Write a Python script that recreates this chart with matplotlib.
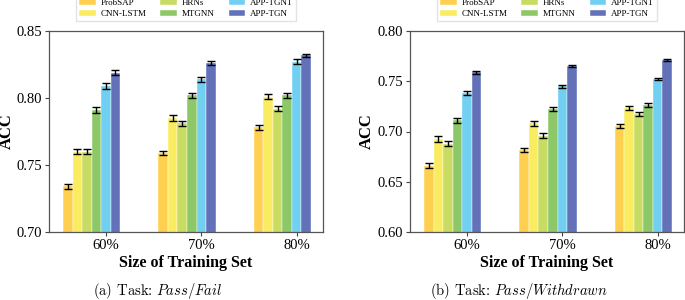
import numpy as np
import matplotlib
matplotlib.use("Agg")
import matplotlib.pyplot as plt

# === Dados ===
grupos = ["60%", "70%", "80%"]
modelos = ["ProbSAP", "CNN-LSTM", "HRNs", "MTGNN", "APP-TGN1", "APP-TGN"]
cores = ["#FFD04F", "#F9EC61", "#C8DB62", "#8DC868", "#71CFF1", "#6271B8"]

# (a) Pass/Fail
acc_a = {
    "ProbSAP":  [0.734, 0.759, 0.778],
    "CNN-LSTM": [0.760, 0.785, 0.801],
    "HRNs":     [0.760, 0.781, 0.792],
    "MTGNN":    [0.791, 0.802, 0.802],
    "APP-TGN1": [0.809, 0.814, 0.827],
    "APP-TGN":  [0.819, 0.826, 0.832],
}
err_a = {
    "ProbSAP":  [0.0020, 0.0018, 0.0018],
    "CNN-LSTM": [0.0020, 0.0025, 0.0020],
    "HRNs":     [0.0018, 0.0020, 0.0018],
    "MTGNN":    [0.0020, 0.0020, 0.0020],
    "APP-TGN1": [0.0022, 0.0020, 0.0018],
    "APP-TGN":  [0.0018, 0.0015, 0.0012],
}

# (b) Pass/Withdrawn
acc_b = {
    "ProbSAP":  [0.666, 0.682, 0.705],
    "CNN-LSTM": [0.693, 0.708, 0.723],
    "HRNs":     [0.688, 0.696, 0.717],
    "MTGNN":    [0.711, 0.722, 0.726],
    "APP-TGN1": [0.738, 0.745, 0.752],
    "APP-TGN":  [0.759, 0.765, 0.771],
}
err_b = {
    "ProbSAP":  [0.0025, 0.0020, 0.0020],
    "CNN-LSTM": [0.0030, 0.0025, 0.0020],
    "HRNs":     [0.0025, 0.0025, 0.0020],
    "MTGNN":    [0.0025, 0.0020, 0.0020],
    "APP-TGN1": [0.0020, 0.0015, 0.0012],
    "APP-TGN":  [0.0015, 0.0012, 0.0010],
}

plt.rcParams['font.family'] = ['Liberation Serif', 'DejaVu Serif']
plt.rcParams['mathtext.fontset'] = 'cm'

fig = plt.figure(figsize=(6.85, 3.0), dpi=100)
W, H = 685, 300
ax_a = fig.add_axes([49 / W, 1 - 232 / H, 274 / W, 201 / H])
ax_b = fig.add_axes([410 / W, 1 - 232 / H, 274 / W, 201 / H])

x = np.arange(len(grupos))
w = 0.1


def desenhar(ax, acc, err, ylim, yticks, ylab_x):
    for i, m in enumerate(modelos):
        ax.bar(x + (i - 2.5) * w, acc[m], w, yerr=err[m], color=cores[i],
               edgecolor='white', linewidth=0.3, label=m, capsize=3,
               error_kw=dict(elinewidth=1.0, capthick=1.0, ecolor='black'))
    ax.set_xlim(-0.447, 2.426)
    ax.set_ylim(*ylim)
    ax.set_yticks(yticks)
    ax.set_yticklabels([f"{v:.2f}" for v in yticks])
    ax.set_xticks(x + 0.15)
    ax.set_xticklabels(grupos)
    ax.tick_params(labelsize=10.5, length=3, width=0.8, color='#444444', pad=2)
    for s in ax.spines.values():
        s.set_color('#555555')
        s.set_linewidth(0.9)
    ax.set_ylabel("ACC", fontsize=12, fontweight='bold')
    ax.yaxis.set_label_coords(ylab_x, 0.5)
    ax.set_xlabel("Size of Training Set", fontsize=11.5, fontweight='bold', labelpad=2)
    ax.legend(ncol=3, loc='lower center', bbox_to_anchor=(0.5, 1.025),
              fontsize=6.5, frameon=True, fancybox=False, edgecolor='#dddddd',
              handlelength=1.8, handleheight=0.7, handletextpad=0.6,
              columnspacing=1.5, borderpad=0.35, labelspacing=0.3)


desenhar(ax_a, acc_a, err_a, (0.70, 0.85), [0.70, 0.75, 0.80, 0.85], -0.125)
desenhar(ax_b, acc_b, err_b, (0.60, 0.80), [0.60, 0.65, 0.70, 0.75, 0.80], -0.13)

fig.text(158 / W, 1 - 291 / H, r"(a) Task: $\mathit{Pass/Fail}$",
         ha='center', va='center', fontsize=10.5, family='cmr10')
fig.text(519 / W, 1 - 291 / H, r"(b) Task: $\mathit{Pass/Withdrawn}$",
         ha='center', va='center', fontsize=10.5, family='cmr10')

plt.savefig("out.png", dpi=100)
